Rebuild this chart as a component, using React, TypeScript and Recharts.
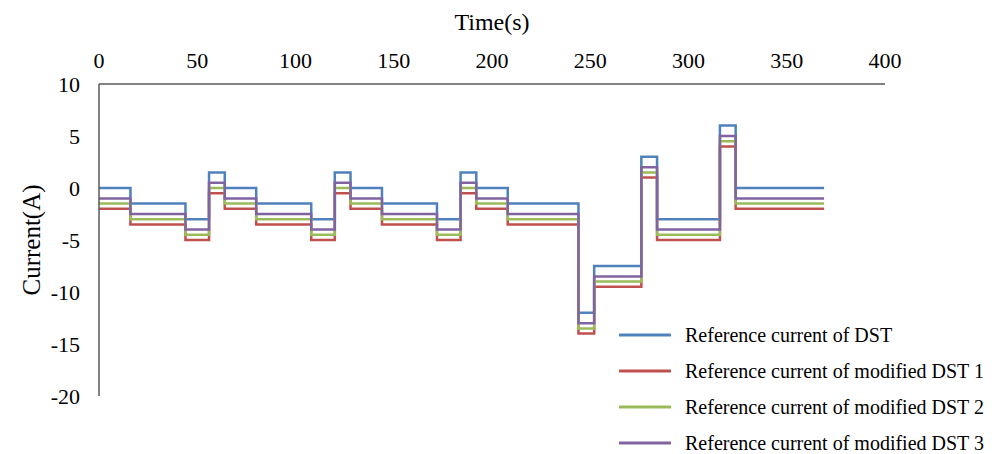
import { LineChart, Line, XAxis, YAxis } from "recharts";

const BLUE   = "#4F81BD";
const RED    = "#C0504D";
const GREEN  = "#9BBB59";
const PURPLE = "#8064A2";
const AXIS   = "#595959";
const FONT   = "'Liberation Serif', 'Times New Roman', serif";

/* step start times (s) of the DST profile, last one is the end */
const TIMES = [0, 16, 44, 56, 64, 80, 108, 120, 128, 144, 172, 184, 192, 208, 244, 252, 276, 284, 316, 324, 369];
const DST   = [0, -1.5, -3, 1.5, 0, -1.5, -3, 1.5, 0, -1.5, -3, 1.5, 0, -1.5, -12, -7.5, 3, -3, 6, 0, 0];
const MOD1  = [-2, -3.5, -5, -0.5, -2, -3.5, -5, -0.5, -2, -3.5, -5, -0.5, -2, -3.5, -14, -9.5, 1, -5, 4, -2, -2];
const MOD2  = [-1.5, -3, -4.5, 0, -1.5, -3, -4.5, 0, -1.5, -3, -4.5, 0, -1.5, -3, -13.5, -9, 1.5, -4.5, 4.5, -1.5, -1.5];
const MOD3  = [-1, -2.5, -4, 0.5, -1, -2.5, -4, 0.5, -1, -2.5, -4, 0.5, -1, -2.5, -13, -8.5, 2, -4, 5, -1, -1];

const X_TICKS = [0, 50, 100, 150, 200, 250, 300, 350, 400];
const Y_TICKS = [-20, -15, -10, -5, 0, 5, 10];

const SERIES = [
  { key: "dst",  name: "Reference current of DST",            color: BLUE },
  { key: "mod1", name: "Reference current of modified DST 1", color: RED },
  { key: "mod2", name: "Reference current of modified DST 2", color: GREEN },
  { key: "mod3", name: "Reference current of modified DST 3", color: PURPLE },
];

const data = TIMES.map((t, i) => ({ t, dst: DST[i], mod1: MOD1[i], mod2: MOD2[i], mod3: MOD3[i] }));

// legend sits inside the plot, bottom-right, like the Excel original
function LegendBox() {
  return (
    <div style={{ position: "absolute", left: 619, top: 317, fontFamily: FONT, fontSize: 20, color: "#000" }}>
      {SERIES.map((s) => (
        <div key={s.key} style={{ display: "flex", alignItems: "center", height: 36, lineHeight: "20px" }}>
          <svg width={52} height={6} style={{ marginRight: 14 }}>
            <line x1={1} y1={3} x2={51} y2={3} stroke={s.color} strokeWidth={3} strokeLinecap="round" />
          </svg>
          <span style={{ whiteSpace: "nowrap" }}>{s.name}</span>
        </div>
      ))}
    </div>
  );
}

function YTitle({ viewBox }: any) {
  const cx = 31;
  const cy = viewBox.y + viewBox.height / 2;
  return (
    <text x={cx} y={cy} transform={`rotate(-90 ${cx} ${cy})`} textAnchor="middle"
          dominantBaseline="central" fontFamily={FONT} fontSize={25} fill="#000">
      Current(A)
    </text>
  );
}

function XTitle({ viewBox }: any) {
  const cx = viewBox.x + viewBox.width / 2;
  return (
    <text x={cx} y={22} textAnchor="middle" dominantBaseline="central"
          fontFamily={FONT} fontSize={24} fill="#000">
      Time(s)
    </text>
  );
}

export default function App() {
  return (
    <div style={{ position: "absolute", left: 0, top: 0, width: 1006, height: 454, background: "#fff", overflow: "hidden" }}>
      <LineChart width={1006} height={454} data={data}
                 margin={{ top: 0, right: 121, bottom: 58, left: 0 }}>
        <XAxis
          dataKey="t"
          type="number"
          orientation="top"
          domain={[0, 400]}
          ticks={X_TICKS}
          height={84}
          tickLine={false}
          tickMargin={10}
          axisLine={{ stroke: AXIS, strokeWidth: 1.5 }}
          tick={{ fontFamily: FONT, fontSize: 22, fill: "#000" }}
          label={<XTitle />}
        />
        <YAxis
          type="number"
          domain={[-20, 10]}
          ticks={Y_TICKS}
          width={99}
          tickLine={false}
          tickMargin={13}
          axisLine={{ stroke: AXIS, strokeWidth: 1.5 }}
          tick={{ fontFamily: FONT, fontSize: 22, fill: "#000" }}
          label={<YTitle />}
        />
        {SERIES.map((s) => (
          <Line
            key={s.key}
            type="stepAfter"
            dataKey={s.key}
            name={s.name}
            stroke={s.color}
            strokeWidth={2.5}
            dot={false}
            isAnimationActive={false}
          />
        ))}
      </LineChart>
      <LegendBox />
    </div>
  );
}
